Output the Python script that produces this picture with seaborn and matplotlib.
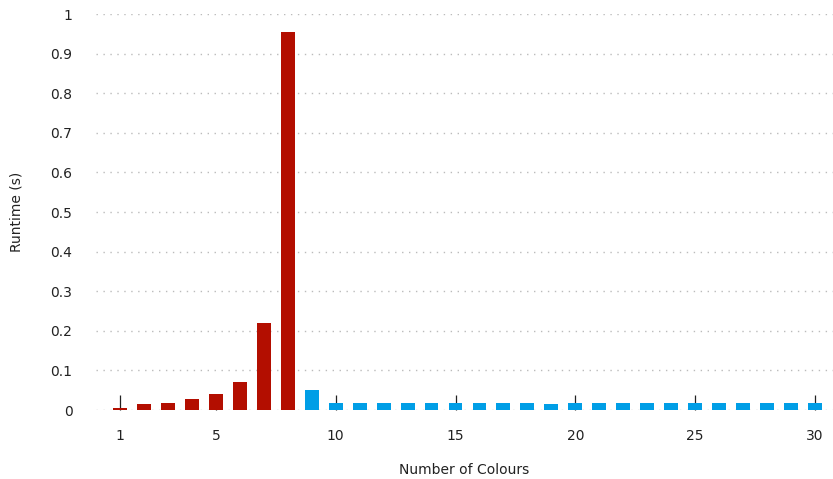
import pandas as pd
import matplotlib
matplotlib.use('Agg')
import matplotlib.pyplot as plt
import seaborn as sns

# number of colours vs runtime in seconds
colours = list(range(1, 31))
runtime = [0.004, 0.014, 0.018, 0.027, 0.040, 0.071, 0.220, 0.954,
           0.051, 0.017, 0.018, 0.017, 0.018, 0.018, 0.018, 0.018,
           0.018, 0.017, 0.016, 0.018, 0.018, 0.018, 0.018, 0.018,
           0.018, 0.018, 0.018, 0.018, 0.018, 0.018]
group = ['slow'] * 8 + ['fast'] * 22

RED = '#b30e00'
BLUE = '#009ee6'

df = pd.DataFrame({'colours': colours, 'runtime': runtime, 'group': group})

sns.set_style('white')
plt.rcParams['font.family'] = ['DejaVu Sans']

fig = plt.figure(figsize=(8.33, 4.79), dpi=100)
ax = fig.add_axes([96 / 833, 69 / 479, 1 - 96 / 833, 396 / 479])

sns.barplot(data=df, x='colours', y='runtime', hue='group',
            palette={'slow': RED, 'fast': BLUE}, native_scale=True,
            dodge=False, width=0.58, legend=False, saturation=1,
            linewidth=0, ax=ax, zorder=3)

ax.set_xlim(0, 30.75)
ax.set_ylim(0, 1)
ax.set_xticks([1, 5, 10, 15, 20, 25, 30])
ax.set_yticks([i / 10 for i in range(11)])
ax.set_yticklabels(['0'] + [f'{i / 10:g}' for i in range(1, 10)] + ['1'])

ax.grid(axis='y', color='#bbbbbb', linestyle=(0, (1, 4)), linewidth=1)
ax.grid(axis='x', visible=False)
ax.set_axisbelow(True)
sns.despine(ax=ax, left=True, bottom=True, top=True, right=True)

# seaborn's white style switches the bottom ticks off
ax.tick_params(axis='x', bottom=True, direction='in', length=11, width=0.9,
               color='#222222', pad=14, labelsize=10, labelcolor='#222222')
ax.tick_params(axis='y', left=False, length=0, pad=17, labelsize=10,
               labelcolor='#222222')

ax.set_xlabel('Number of Colours', fontsize=10, color='#222222')
ax.set_ylabel('Runtime (s)', fontsize=10, color='#222222')
ax.xaxis.set_label_coords(0.5, -0.134)
ax.yaxis.set_label_coords(-0.099, 0.5)

fig.savefig('out.png', dpi=100)
